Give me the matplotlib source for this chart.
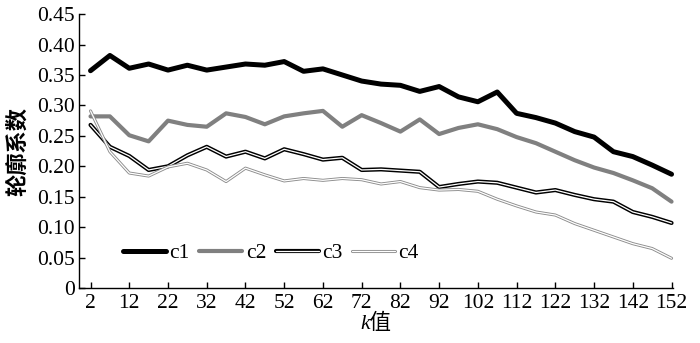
import matplotlib
matplotlib.use("Agg")
import matplotlib.pyplot as plt
import matplotlib.patheffects as pe
import numpy as np

plt.rcParams['font.family'] = ['Liberation Serif', 'Noto Sans CJK SC']

k = list(range(2, 153, 5))

c1 = [0.357, 0.382, 0.361, 0.368, 0.358, 0.366, 0.358, 0.363, 0.368, 0.366,
      0.372, 0.356, 0.360, 0.350, 0.340, 0.335, 0.333, 0.323, 0.331, 0.314,
      0.306, 0.322, 0.287, 0.280, 0.271, 0.257, 0.248, 0.224, 0.216, 0.202, 0.187]
c2 = [0.282, 0.282, 0.251, 0.241, 0.275, 0.268, 0.265, 0.287, 0.281, 0.269,
      0.282, 0.287, 0.291, 0.265, 0.284, 0.271, 0.257, 0.277, 0.253, 0.263,
      0.269, 0.261, 0.248, 0.238, 0.224, 0.210, 0.198, 0.189, 0.177, 0.164, 0.142]
c3 = [0.268, 0.232, 0.217, 0.194, 0.200, 0.218, 0.232, 0.216, 0.224, 0.213,
      0.228, 0.220, 0.211, 0.214, 0.194, 0.195, 0.193, 0.191, 0.166, 0.171,
      0.175, 0.173, 0.165, 0.157, 0.161, 0.153, 0.146, 0.142, 0.125, 0.117, 0.107]
c4 = [0.291, 0.224, 0.189, 0.184, 0.199, 0.205, 0.194, 0.175, 0.197, 0.186,
      0.176, 0.180, 0.177, 0.180, 0.178, 0.171, 0.175, 0.165, 0.161, 0.162,
      0.159, 0.146, 0.135, 0.125, 0.120, 0.106, 0.095, 0.084, 0.073, 0.065, 0.049]

xticks = list(range(2, 153, 10))
yticks = [0, 0.05, 0.10, 0.15, 0.20, 0.25, 0.30, 0.35, 0.40, 0.45]

fig = plt.figure(figsize=(7, 3.43), dpi=100)
ax = fig.add_axes([0.113, 0.160, 0.848, 0.799])

ax.plot(k, c1, color='black', lw=3.6, solid_capstyle='round',
        solid_joinstyle='round', label='c1', clip_on=False)
ax.plot(k, c2, color='#808080', lw=3.0, solid_capstyle='round',
        solid_joinstyle='round', label='c2', clip_on=False)
ax.plot(k, c3, color='white', lw=0.9, solid_capstyle='round',
        solid_joinstyle='round', label='c3', clip_on=False,
        path_effects=[pe.Stroke(linewidth=3.0, foreground='black'), pe.Normal()])
ax.plot(k, c4, color='white', lw=0.9, solid_capstyle='round',
        solid_joinstyle='round', label='c4', clip_on=False,
        path_effects=[pe.Stroke(linewidth=2.2, foreground='#8c8c8c'), pe.Normal()])

ax.set_xlim(-0.95, 152.3)
ax.set_ylim(0, 0.45)
ax.set_xticks(xticks)
ax.set_yticks(yticks)
ax.set_yticklabels(['0' if v == 0 else '%.2f' % v for v in yticks])
ax.tick_params(direction='in', length=4, width=1, labelsize=15.5, colors='black')
ax.tick_params(axis='x', pad=4)
ax.tick_params(axis='y', pad=3)

for s in ['top', 'right']:
    ax.spines[s].set_visible(False)
for s in ['left', 'bottom']:
    ax.spines[s].set_linewidth(1)

ax.set_ylabel('轮廓系数', fontsize=16, family=['Noto Sans CJK SC'],
              weight='bold', labelpad=6)
ax.set_xlabel('k值', fontsize=15.5, style='italic', labelpad=1)

leg = ax.legend(loc='center left', bbox_to_anchor=(0.176, 0.262),
                bbox_transform=fig.transFigure, ncol=4, frameon=False,
                fontsize=15.5, handlelength=2.0, handletextpad=0.15,
                columnspacing=0.45, borderpad=0, borderaxespad=0)

fig.savefig('out.png', dpi=100)
